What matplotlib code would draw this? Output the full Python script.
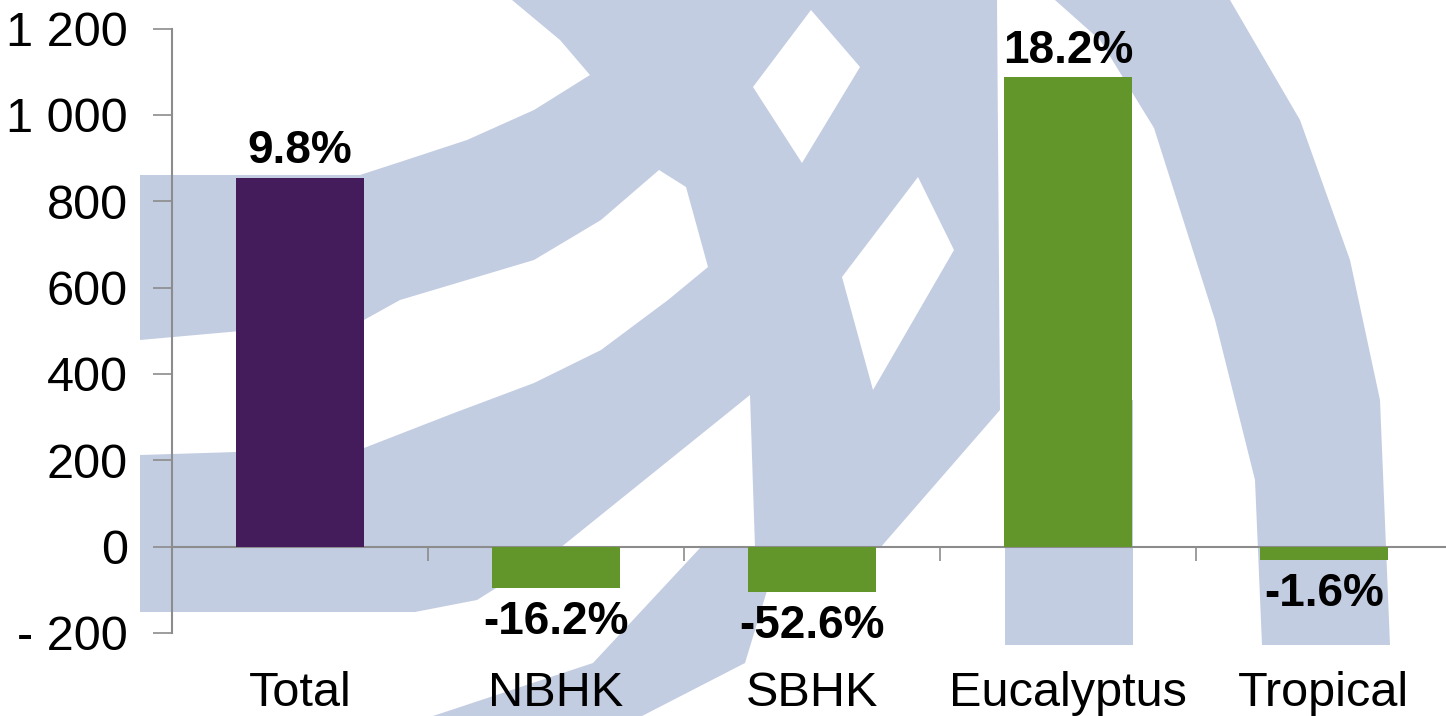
import matplotlib.pyplot as plt
from matplotlib import font_manager
from matplotlib.patches import Polygon
from matplotlib.transforms import blended_transform_factory

categories = ['Total', 'NBHK', 'SBHK', 'Eucalyptus', 'Tropical']
values = [855, -95, -105, 1087, -30]
changes = ['9.8%', '-16.2%', '-52.6%', '18.2%', '-1.6%']
yticks = [-200, 0, 200, 400, 600, 800, 1000, 1200]
ytick_labels = ['- 200', '0', '200', '400', '600', '800', '1 000', '1 200']

purple = '#441c5c'
green = '#62952a'
grey = '#8c8c8c'
wm_blue = '#c3cde2'

names = {f.name for f in font_manager.fontManager.ttflist}
narrow = 'Liberation Sans Narrow' if 'Liberation Sans Narrow' in names else 'Liberation Sans'

plt.rcParams['font.family'] = ['Liberation Sans', 'DejaVu Sans']

fig = plt.figure(figsize=(14.46, 7.16), dpi=100)

# faded logo in the background (rough outline, pixel coords from top-left)
bg = fig.add_axes([0, 0, 1, 1], zorder=0)
bg.set_xlim(0, 1446)
bg.set_ylim(716, 0)
bg.axis('off')
blue_shapes = [
    [(140, 175), (360, 175), (400, 162), (467, 140), (534, 110), (590, 75),
     (560, 40), (512, 0), (997, 0), (1000, 410), (880, 548), (755, 548),
     (750, 395), (560, 548), (477, 600), (415, 612), (140, 612)],
    [(700, 548), (780, 548), (745, 663), (642, 716), (433, 716), (593, 663)],
    [(1055, 0), (1230, 0), (1300, 120), (1350, 260), (1380, 400), (1390, 645),
     (1262, 645), (1255, 480), (1215, 320), (1154, 128), (1100, 40)],
    [(1005, 400), (1133, 400), (1133, 645), (1005, 645)],
]
white_shapes = [
    [(140, 340), (364, 320), (400, 300), (534, 260), (601, 220), (659, 170),
     (686, 187), (708, 267), (668, 300), (601, 350), (534, 383), (454, 413),
     (364, 448), (140, 455)],
    [(918, 177), (954, 250), (873, 390), (842, 277)],
    [(811, 10), (860, 67), (802, 163), (753, 87)],
]
for pts in blue_shapes:
    bg.add_patch(Polygon(pts, closed=True, facecolor=wm_blue, edgecolor='none'))
for pts in white_shapes:
    bg.add_patch(Polygon(pts, closed=True, facecolor='white', edgecolor='none'))

ax = fig.add_axes([0.119, 0.116, 0.885, 0.844], zorder=1)
ax.patch.set_alpha(0)

x = range(len(categories))
colors = [purple] + [green] * (len(categories) - 1)
ax.bar(x, values, width=0.5, color=colors, zorder=3)

for xi, v, lab in zip(x, values, changes):
    if v >= 0:
        ax.annotate(lab, (xi, v), xytext=(0, 3), textcoords='offset points',
                    ha='center', va='bottom', fontsize=33, fontweight='bold')
    else:
        ax.annotate(lab, (xi, v), xytext=(0, -9), textcoords='offset points',
                    ha='center', va='top', fontsize=33, fontweight='bold',
                    family=[narrow, 'DejaVu Sans'])

ax.set_xlim(-0.5, 4.5)
ax.set_ylim(-200, 1200)
ax.set_yticks(yticks)
ax.set_yticklabels(ytick_labels, fontsize=35)
ax.tick_params(axis='y', direction='out', length=14, width=1.2, color=grey, pad=18)

# zero line with ticks between categories
ax.spines['bottom'].set_position(('data', 0))
ax.spines['bottom'].set_color(grey)
ax.spines['bottom'].set_linewidth(1.5)
ax.set_xticks([0.5, 1.5, 2.5, 3.5])
ax.set_xticklabels([])
ax.tick_params(axis='x', direction='out', length=10, width=1.2, color=grey)
ax.spines['left'].set_color(grey)
ax.spines['left'].set_linewidth(1.5)
ax.spines['top'].set_visible(False)
ax.spines['right'].set_visible(False)

tr = blended_transform_factory(ax.transData, ax.transAxes)
for xi, c in zip(x, categories):
    ax.text(xi, -0.1, c, transform=tr, ha='center', va='center', fontsize=35)

fig.savefig('out.png', dpi=100)
